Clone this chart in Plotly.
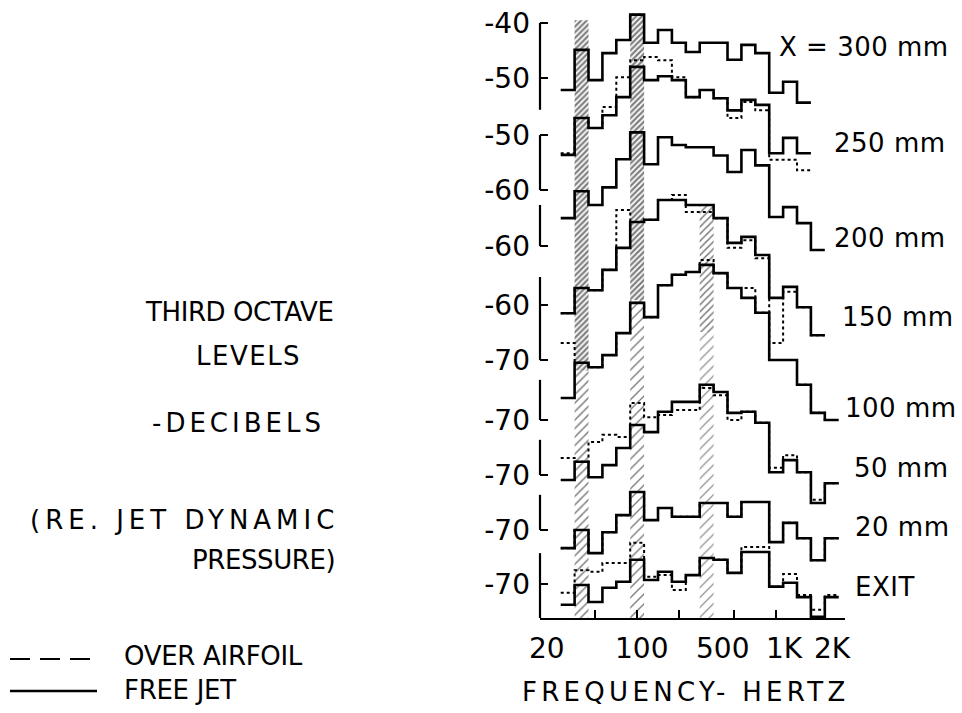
import numpy as np
import plotly.graph_objects as go

# Third-octave band centre frequencies (Hz)
bands = [31.5, 40, 50, 63, 80, 100, 125, 160, 200, 250,
         315, 400, 500, 630, 800, 1000, 1250, 1600, 2000, 2500]

stations = ["X = 300 mm", "250 mm", "200 mm", "150 mm", "100 mm", "50 mm", "20 mm", "EXIT"]

# Third-octave levels, dB re. jet dynamic pressure -- free jet (solid)
free_jet_300 = [-52.2, -44.9, -50.4, -45.5, -43.1, -38.5, -43.6, -41.3, -43.6, -45.3,
                -43.6, -43.6, -46.7, -44.0, -45.5, -52.7, -50.7, -54.5]
free_jet_250 = [-53.6, -46.9, -48.7, -46.4, -43.1, -37.6, -40.0, -39.3, -40.0, -43.1,
                -41.8, -43.3, -45.5, -43.6, -44.5, -53.3, -50.5, -53.3]
free_jet_200 = [-54.9, -50.0, -52.5, -49.3, -44.2, -39.3, -45.1, -40.2, -41.6, -42.0,
                -42.0, -43.5, -46.5, -42.5, -45.3, -54.7, -52.9, -55.8, -60.7]
free_jet_150 = [-61.5, -56.9, -57.3, -53.6, -49.6, -44.9, -44.5, -40.9, -40.9, -41.8,
                -41.8, -44.2, -48.7, -47.6, -50.9, -58.7, -56.7, -60.4, -65.5]
free_jet_100 = [-66.0, -59.6, -60.4, -58.2, -54.2, -48.7, -51.3, -45.5, -43.6, -43.1,
                -41.8, -43.3, -46.0, -47.8, -50.5, -59.1, -59.1, -63.6, -68.7, -70.0]
free_jet_50 = [-70.9, -67.6, -70.4, -68.2, -65.1, -60.9, -62.2, -58.5, -56.7, -56.7,
               -53.6, -54.9, -58.7, -58.5, -60.5, -69.5, -67.3, -69.5, -75.1, -71.5]
free_jet_20 = [-73.3, -70.0, -74.2, -70.4, -67.3, -63.1, -68.2, -66.0, -67.6, -67.6,
               -65.1, -65.1, -67.6, -64.9, -64.9, -72.2, -68.7, -71.5, -75.5, -71.5]
free_jet_exit = [-73.8, -70.2, -73.3, -70.7, -69.6, -65.6, -69.3, -67.8, -69.6, -68.4,
                 -65.3, -65.6, -68.0, -64.2, -64.2, -70.5, -69.8, -72.4, -76.0, -72.4]

# Third-octave levels over the airfoil (dashed)
airfoil_250 = [-53.3, -46.9, -48.7, -44.9, -39.5, -36.4, -35.8, -36.4, -39.5, -43.1,
               -41.8, -43.3, -46.9, -44.0, -45.5, -54.5, -54.5, -56.4]
airfoil_150 = [-61.5, -56.9, -57.3, -53.6, -42.7, -44.9, -44.5, -40.9, -40.0, -43.1,
               -43.1, -44.2, -49.6, -48.2, -51.5, -66.9, -57.6, -60.4, -65.5]
airfoil_100 = [-56.0, -59.6, -60.4, -58.2, -54.2, -48.7, -51.3, -45.5, -43.6, -43.1,
               -40.9, -43.3, -46.0, -46.0, -50.5, -59.1, -59.1, -63.6, -68.7, -70.0]
airfoil_50 = [-66.9, -67.6, -64.0, -62.7, -63.1, -56.9, -59.5, -59.1, -58.2, -58.2,
              -54.2, -55.5, -60.0, -58.5, -60.5, -68.7, -66.4, -69.5, -74.5, -71.5]
airfoil_20 = [-73.3, -70.0, -74.2, -70.4, -67.3, -63.1, -68.2, -66.0, -67.6, -67.6,
              -65.1, -65.1, -67.6, -64.9, -64.9, -72.2, -68.7, -71.5, -75.5, -71.5]
airfoil_exit = [-71.6, -67.5, -67.8, -66.2, -66.2, -62.5, -68.7, -68.4, -71.1, -68.4,
                -65.3, -65.6, -68.0, -63.3, -63.3, -70.5, -68.2, -72.0, -74.7, -72.0]

free_jet = [free_jet_300, free_jet_250, free_jet_200, free_jet_150,
            free_jet_100, free_jet_50, free_jet_20, free_jet_exit]
airfoil = [None, airfoil_250, None, airfoil_150,
           airfoil_100, airfoil_50, airfoil_20, airfoil_exit]

# Per-station scale labels: (station index, dB)
scale_labels = [(0, -40), (0, -50), (1, -50), (1, -60), (2, -60), (3, -60),
                (3, -70), (4, -70), (5, -70), (6, -70), (7, -70)]

x_tick_labels = [(20, "20"), (100, "100"), (500, "500"), (1000, "1K"), (2000, "2K")]

# ---------------- layout geometry ----------------
W, H = 962, 713
ML, MR, MT, MB = 540, 117, 5, 95
PW, PH = W - ML - MR, H - MT - MB
DB_PX = 5.5                       # pixels per dB
DECADE_PX = 139.0                 # pixels per frequency decade
Y_SPAN = PH / DB_PX
F_LO = 20.0
F_HI = F_LO * 10 ** (PW / DECADE_PX)
# vertical shift of each station's spectrum on the common axis
STATION_SHIFT = [148.2, 137.8, 127.6, 116.9, 106.0, 96.0, 86.0, 76.2]
# extent (dB) of each station's scale bracket
BRACKET = [(-40, -55.8), (-50, -60), (-52.5, -60), (-54.9, -70),
           (-62.7, -70), (-63.6, -70), (-63.6, -70), (-64.4, -76.2)]
FONT = "DejaVu Sans"


def px(xp, yp):
    """Pixel position on the page -> paper coordinates."""
    return (xp - ML) / PW, (H - MB - yp) / PH


def spaced(text, sp):
    return '<span style="letter-spacing:%gpx">%s</span>' % (sp, text)


def edges_for(n):
    exact = 10 ** (np.round(10 * np.log10(bands[:n])) / 10)
    left = exact * 10 ** -0.05
    return list(left) + [exact[-1] * 10 ** 0.05]


fig = go.Figure()


# hatched marker bands at 40, 100 and 315 Hz
def hatch(fc, y_lo, y_hi, solidity, size):
    c = 10 ** (np.round(10 * np.log10(fc)) / 10)
    x0, x1 = c * 10 ** -0.05, c * 10 ** 0.05
    fig.add_trace(go.Scatter(
        x=[x0, x1, x1, x0, x0], y=[y_lo, y_lo, y_hi, y_hi, y_lo],
        mode="lines", line=dict(width=0), fill="toself",
        fillcolor="rgba(255,255,255,0)",
        fillpattern=dict(shape="/", fgcolor="black", bgcolor="rgba(255,255,255,0)",
                         size=size, solidity=solidity),
        hoverinfo="skip", showlegend=False))


hatch(40, 45, 108.7, 0.55, 4)
hatch(40, 0, 45, 0.25, 6)
hatch(100, 57.8, 110.0, 0.55, 4)
hatch(100, 0, 57.8, 0.2, 7)
hatch(315, 52, 75.1, 0.3, 5)
hatch(315, 0, 52, 0.17, 7)

for i, name in enumerate(stations):
    shift = STATION_SHIFT[i]
    for series, dash, w in ((airfoil[i], "3px,3px", 2.0), (free_jet[i], "solid", 2.6)):
        if series is None:
            continue
        xe = edges_for(len(series))
        ys = [v + shift for v in series] + [series[-1] + shift]
        fig.add_trace(go.Scatter(
            x=xe, y=ys, mode="lines", line_shape="hv",
            line=dict(color="black", width=w, dash=dash),
            hoverinfo="skip", showlegend=False))

# station scale brackets along the left edge
for i, (hi, lo) in enumerate(BRACKET):
    fig.add_shape(type="line", xref="paper", yref="y", x0=0, x1=0,
                  y0=lo + STATION_SHIFT[i], y1=hi + STATION_SHIFT[i],
                  line=dict(color="black", width=2.2))

annotations = []
# frequency tick labels
label_nudge = {20: 7, 100: 4, 500: -12, 1000: 8, 2000: 14}
for f, t in x_tick_labels:
    annotations.append(dict(x=np.log10(f), xref="x", y=0, yref="paper", yshift=-30,
                            xshift=label_nudge[f], text=t, showarrow=False,
                            font=dict(family=FONT, size=28, color="black"),
                            xanchor="center", yanchor="middle"))

# station names at the right-hand end of each spectrum
station_px = [(777, 47), (832, 143), (832, 238), (840, 317),
              (843, 408), (852, 468), (853, 527), (853, 587)]
for name, (xp, yp) in zip(stations, station_px):
    ax, ay = px(xp, yp)
    annotations.append(dict(x=ax, y=ay, xref="paper", yref="paper",
                            text=spaced(name, 0.5), showarrow=False,
                            xanchor="left", yanchor="middle",
                            font=dict(family=FONT, size=26, color="black")))

texts = [("THIRD OCTAVE", 239, 312, -0.4), ("LEVELS", 248, 356, 1.5),
         ("-DECIBELS", 238, 423, 4), ("(RE. JET DYNAMIC", 184, 520, 5),
         ("PRESSURE)", 263, 560, -0.4), ("FREQUENCY- HERTZ", 686, 692, 4.3)]
for t, xp, yp, sp in texts:
    ax, ay = px(xp, yp)
    annotations.append(dict(x=ax, y=ay, xref="paper", yref="paper", text=spaced(t, sp),
                            showarrow=False, xanchor="center", yanchor="middle",
                            font=dict(family=FONT, size=26, color="black")))

# key
for t, yp in (("OVER AIRFOIL", 656), ("FREE JET", 690)):
    ax, ay = px(122, yp)
    annotations.append(dict(x=ax, y=ay, xref="paper", yref="paper", text=spaced(t, -0.3),
                            showarrow=False, xanchor="left", yanchor="middle",
                            font=dict(family=FONT, size=26, color="black")))
x0, y0 = px(10, 659)
x1, _ = px(92, 659)
fig.add_shape(type="line", xref="paper", yref="paper", x0=x0, x1=x1, y0=y0, y1=y0,
              line=dict(color="black", width=2.2, dash="20px,10px"))
x0, y0 = px(10, 691)
x1, _ = px(97, 691)
fig.add_shape(type="line", xref="paper", yref="paper", x0=x0, x1=x1, y0=y0, y1=y0,
              line=dict(color="black", width=2.5))

fig.update_layout(
    width=W, height=H, margin=dict(l=ML, r=MR, t=MT, b=MB),
    paper_bgcolor="white", plot_bgcolor="white", showlegend=False,
    annotations=annotations,
    xaxis=dict(type="log", range=[np.log10(F_LO), np.log10(F_HI)],
               showgrid=False, zeroline=False, showline=True, linecolor="black",
               linewidth=2, ticks="inside", ticklen=8, tickwidth=2, tickcolor="black",
               tickmode="array", tickvals=[50, 100, 200, 500, 1000],
               showticklabels=False, fixedrange=True),
    yaxis=dict(range=[0, Y_SPAN], showgrid=False, zeroline=False, showline=False,
               ticks="inside", ticklen=8, tickwidth=2, tickcolor="black",
               tickmode="array",
               tickvals=[v + STATION_SHIFT[i] for i, v in scale_labels],
               ticktext=[str(v) for _, v in scale_labels],
               tickfont=dict(family=FONT, size=28, color="black"),
               ticklabelstandoff=9, fixedrange=True),
)

fig.write_html("out.html")
